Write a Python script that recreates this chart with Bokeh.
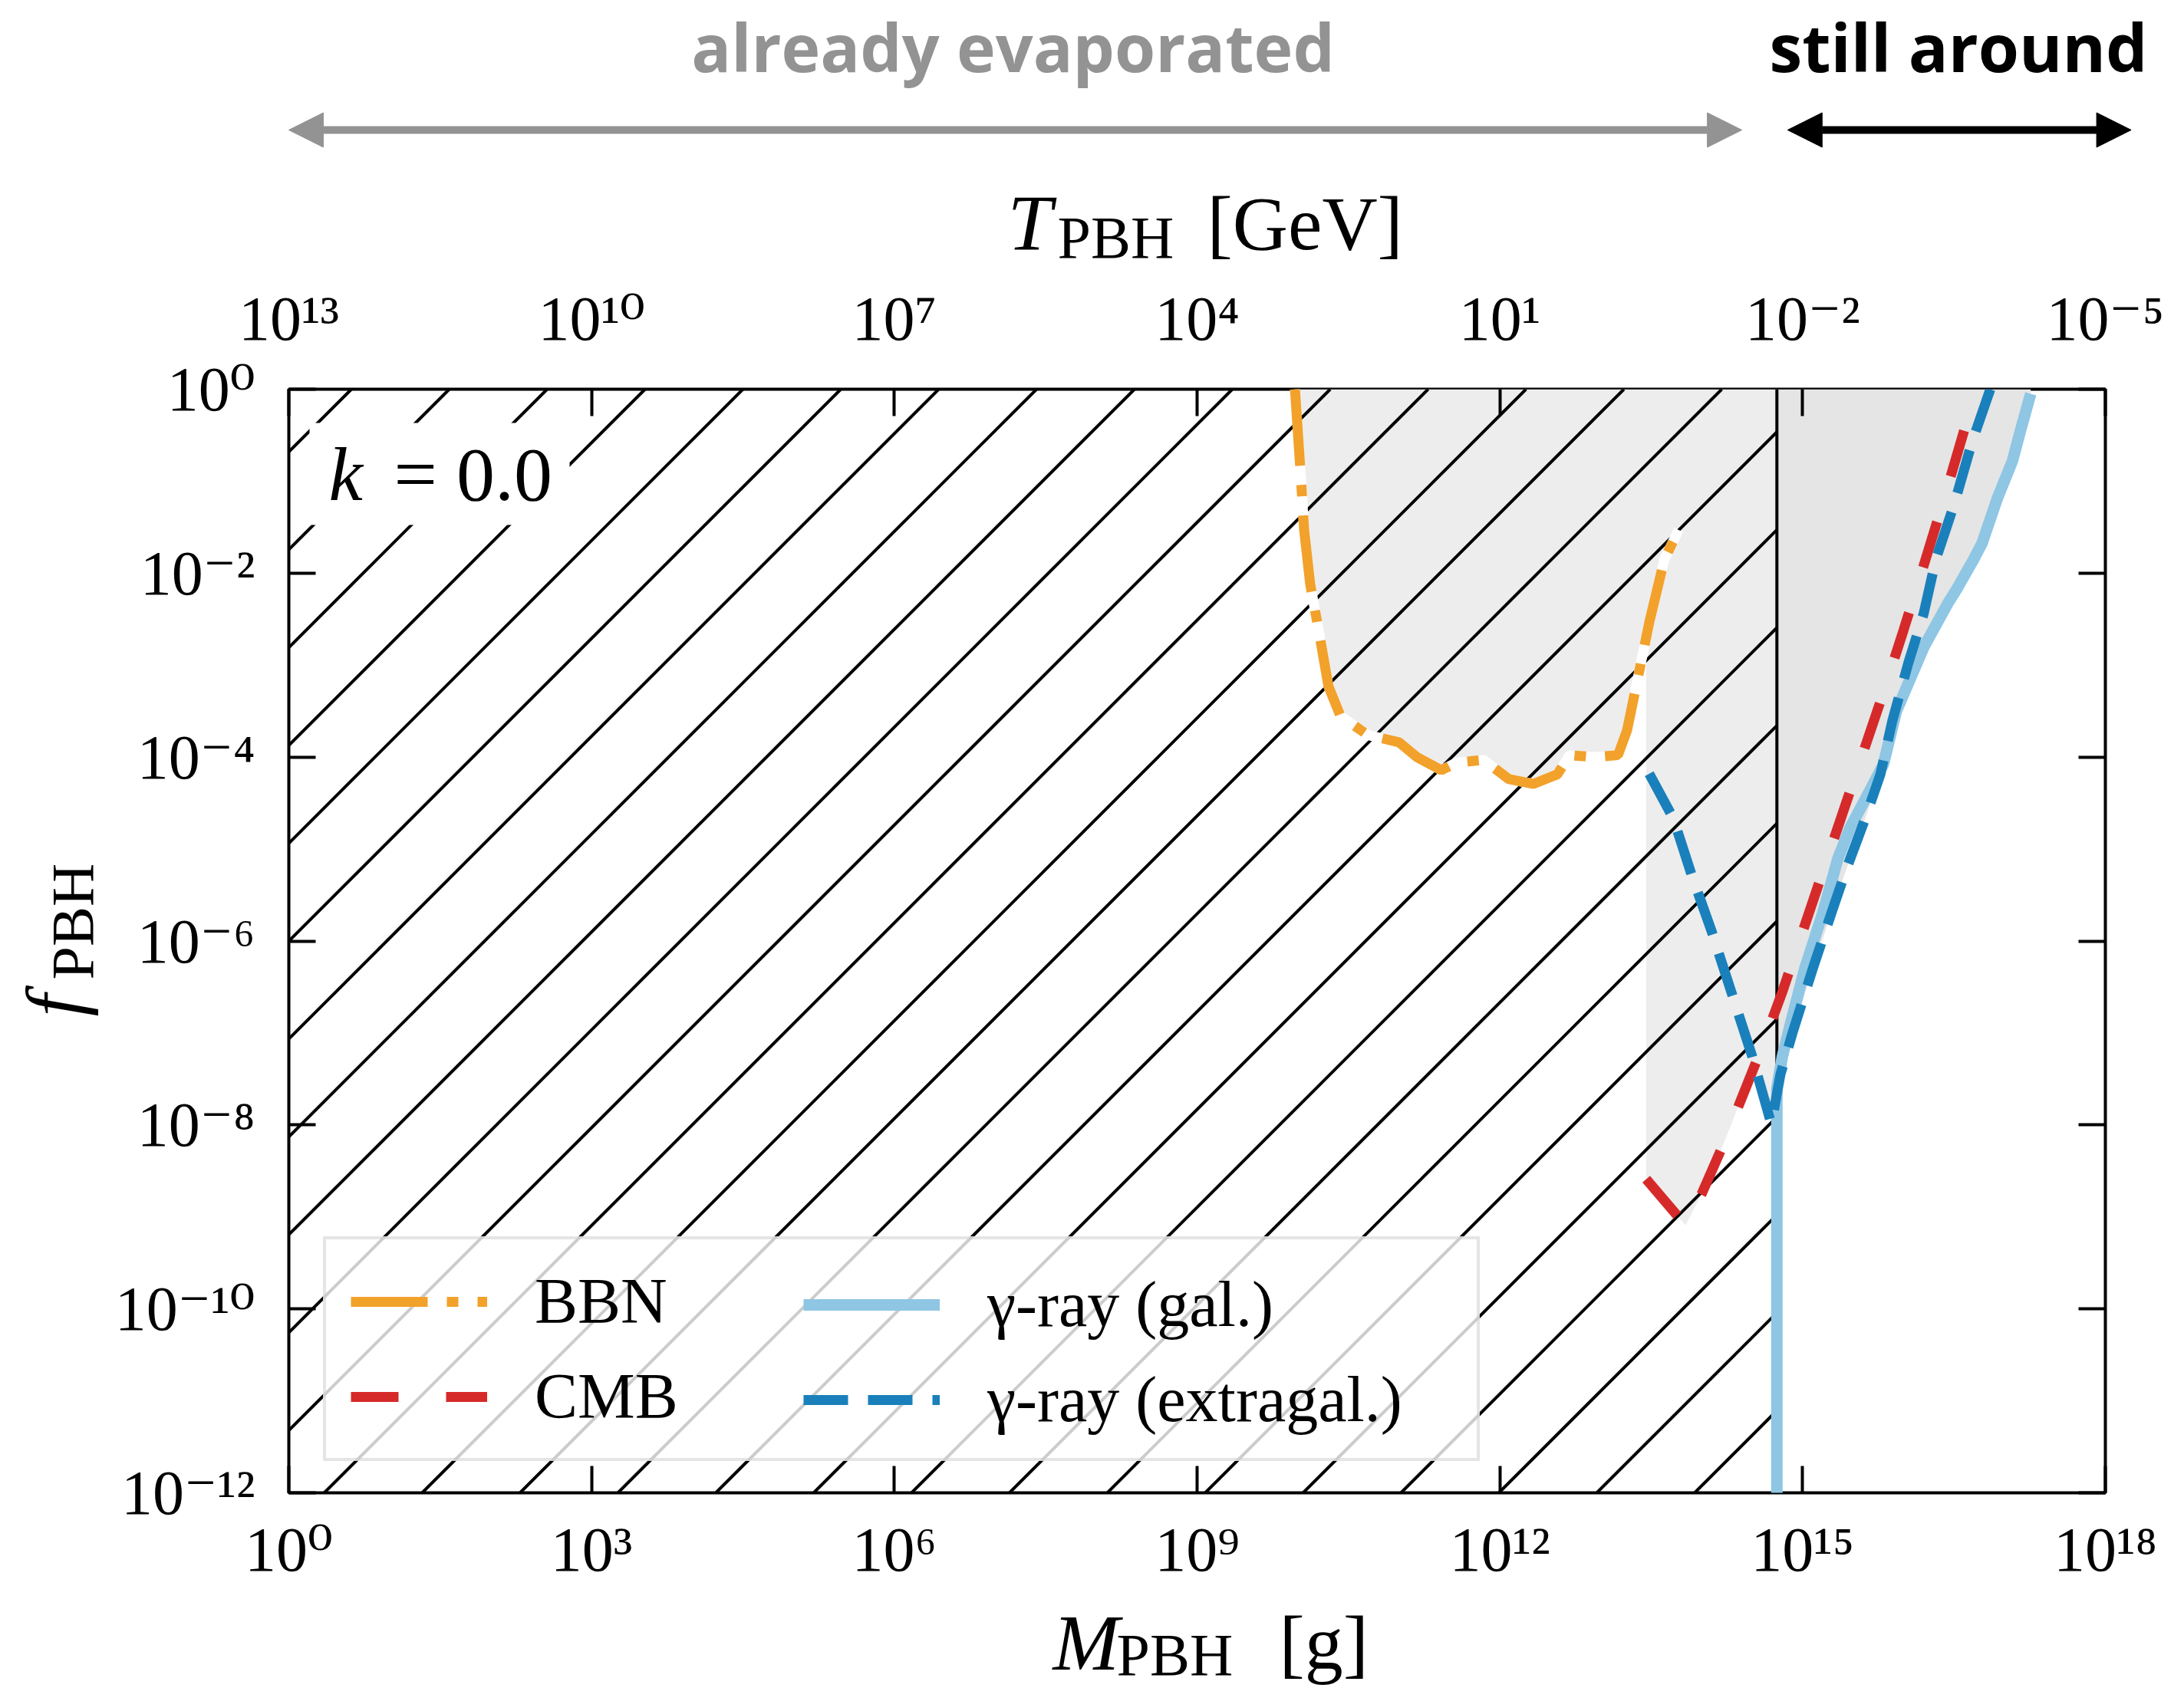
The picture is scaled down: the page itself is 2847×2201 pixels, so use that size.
import numpy as np
from bokeh.plotting import figure
from bokeh.layouts import column, row
from bokeh.models import (Range1d, LogAxis, LogScale, FixedTicker, CustomJSTickFormatter,
                          Label, Legend, LegendItem, Arrow, NormalHead, BoxAnnotation)
from bokeh.embed import file_html
from bokeh.resources import INLINE
from bokeh.core.properties import value

# ---------------- data ----------------
bbn_mass = [9.33e9, 1.05e10, 1.15e10, 1.32e10, 1.62e10, 2.0e10, 2.63e10, 4.9e10, 1.0e11,
            1.51e11, 2.63e11, 3.72e11, 6.9e11, 1.23e12, 2.14e12, 3.72e12, 4.9e12, 8.5e12,
            1.48e13, 1.82e13, 2.29e13, 3.02e13, 4.27e13, 5.9e13]
bbn_f = [1.0, 1.45e-1, 2.95e-2, 7.6e-3, 2.24e-3, 5.9e-4, 2.8e-4, 1.74e-4, 1.45e-4,
         1.0e-4, 7.2e-5, 8.7e-5, 9.3e-5, 5.75e-5, 5.1e-5, 6.5e-5, 1.05e-4, 1.0e-4,
         1.05e-4, 1.95e-4, 6.6e-4, 2.9e-3, 1.41e-2, 2.95e-2]

cmb_mass = [2.82e13, 6.92e13, 1.0e14, 1.58e14, 2.51e14, 3.98e14, 6.31e14, 1.0e15, 1.58e15,
            2.51e15, 3.98e15, 6.31e15, 1.0e16, 1.58e16, 2.51e16, 3.98e16, 5.0e16]
cmb_f = [2.57e-9, 8.1e-10, 1.78e-9, 5.6e-9, 2.0e-8, 7.1e-8, 2.82e-7, 1.26e-6, 5.6e-6,
         2.51e-5, 1.12e-4, 5.0e-4, 2.4e-3, 1.2e-2, 6.3e-2, 0.355, 0.89]

exgal_mass = [3.02e13, 5.25e13, 7.94e13, 1.26e14, 2.0e14, 3.16e14, 4.9e14, 6.03e14, 7.94e14,
              1.26e15, 1.95e15, 2.75e15, 4.17e15, 5.9e15, 7.76e15, 1.12e16, 1.58e16,
              2.09e16, 3.16e16, 4.79e16, 7.24e16]
exgal_f = [6.6e-5, 2.14e-5, 5.25e-6, 1.26e-6, 2.63e-7, 5.6e-8, 1.02e-8, 3.55e-8, 1.0e-7,
           5.0e-7, 2.09e-6, 6.3e-6, 2.14e-5, 6.5e-5, 2.5e-4, 1.07e-3, 3.6e-3,
           1.41e-2, 5.5e-2, 0.269, 1.0]

gal_mass = [5.56e14, 5.56e14, 6.31e14, 7.59e14, 1.05e15, 1.58e15, 2.24e15, 2.95e15, 4.47e15,
            6.31e15, 8.5e15, 1.58e16, 2.75e16, 3.39e16, 4.9e16, 6.03e16, 8.5e16,
            1.2e17, 1.45e17, 1.82e17]
gal_f = [1.0e-13, 2.5e-8, 5.6e-8, 1.26e-7, 5.0e-7, 2.0e-6, 7.9e-6, 1.7e-5, 4.0e-5,
         8.3e-5, 3.16e-4, 1.55e-3, 4.7e-3, 6.8e-3, 1.38e-2, 2.14e-2, 6.5e-2,
         0.166, 0.363, 0.89]

M_EVAP = 5.56e14          # mass evaporating today [g]
T_SCALE_GEV = 1.0e13      # T_PBH = T_SCALE_GEV * (1 g / M)
M_RANGE = (1.0, 1.0e18)
F_RANGE = (1.0e-12, 1.0)
MASS_TICKS = [1e0, 1e3, 1e6, 1e9, 1e12, 1e15, 1e18]
F_TICKS = [1e-12, 1e-10, 1e-8, 1e-6, 1e-4, 1e-2, 1e0]
T_TICKS = [1e13, 1e10, 1e7, 1e4, 1e1, 1e-2, 1e-5]

LEGEND_LABELS = ["BBN", "CMB", "γ-ray (gal.)", "γ-ray (extragal.)"]
TOP_TEXTS = ["already evaporated", "still around"]
EVAP_ARROW_M = (1.0, 2.5e14)       # mass span of the "already evaporated" arrow
AROUND_ARROW_M = (7.1e14, 1.8e18)  # mass span of the "still around" arrow

# ---------------- style / geometry ----------------
C_BBN = "#F2A12B"
C_CMB = "#D62A2A"
C_EXGAL = "#1A80BB"
C_GAL = "#8EC6E4"
FILL_LEFT = "#EDEDED"
FILL_RIGHT = "#E5E5E5"
GRAY_TXT = "#939393"
SERIF = "Liberation Serif, DejaVu Serif"
SANS = "Open Sans"
# renderer places the alphabetic baseline this fraction of the font size too low
BASE_FIX = {SERIF: 0.33, SANS: 0.41}

W_TOTAL, H_TOTAL = 2847, 2201
FRAME_W, FRAME_H = 2368, 1439
FRAME_LEFT, FRAME_TOP = 376, 507          # page position of the plot frame
LEFT_STRIP_W = 140
TOP_STRIP_H = 357
B_L = FRAME_LEFT - LEFT_STRIP_W
B_R = W_TOTAL - FRAME_LEFT - FRAME_W
B_T = FRAME_TOP - TOP_STRIP_H
B_B = 128
MAIN_W = W_TOTAL - LEFT_STRIP_W
MAIN_H = B_T + FRAME_H + B_B
BOTTOM_STRIP_H = H_TOTAL - TOP_STRIP_H - MAIN_H
PPD_X = FRAME_W / 18.0
FRAME_BOTTOM = FRAME_TOP + FRAME_H


def scr(px, py):
    """page pixel -> screen units of the main frame (from its bottom-left, y up)"""
    return px - FRAME_LEFT, FRAME_BOTTOM - py


def page_to_mass(px):
    return 10 ** ((px - FRAME_LEFT) / PPD_X)


SUP_CODE = """
const sup = {"-": "\u207b", "0": "\u2070", "1": "\u00b9", "2": "\u00b2", "3": "\u00b3",
             "4": "\u2074", "5": "\u2075", "6": "\u2076", "7": "\u2077", "8": "\u2078", "9": "\u2079"};
const e = Math.round(Math.log10(tick));
return "10" + String(e).split("").map(c => sup[c]).join("");
"""

# ---------------- main figure ----------------
p = figure(x_axis_type="log", y_axis_type="log",
           x_range=Range1d(*M_RANGE), y_range=Range1d(*F_RANGE),
           width=MAIN_W, height=MAIN_H,
           min_border_left=B_L, min_border_right=B_R, min_border_top=B_T, min_border_bottom=B_B,
           output_backend="svg", toolbar_location=None)
p.grid.visible = False
p.outline_line_color = "black"
p.outline_line_width = 4
p.background_fill_color = "white"
p.border_fill_color = "white"

bottom_axis = p.below[0]
left_axis = p.left[0]
p.extra_x_ranges = {"T": Range1d(T_SCALE_GEV / M_RANGE[0], T_SCALE_GEV / M_RANGE[1])}
p.extra_x_scales = {"T": LogScale()}
top_axis = LogAxis(x_range_name="T")
p.add_layout(top_axis, "above")
right_axis = LogAxis()
p.add_layout(right_axis, "right")

bottom_axis.ticker = FixedTicker(ticks=MASS_TICKS, minor_ticks=[])
left_axis.ticker = FixedTicker(ticks=F_TICKS, minor_ticks=[])
top_axis.ticker = FixedTicker(ticks=T_TICKS, minor_ticks=[])
right_axis.ticker = FixedTicker(ticks=F_TICKS, minor_ticks=[])
for ax in (bottom_axis, left_axis, top_axis):
    ax.formatter = CustomJSTickFormatter(code=SUP_CODE)
right_axis.formatter = CustomJSTickFormatter(code="return '';")
for ax in (bottom_axis, left_axis, top_axis, right_axis):
    ax.axis_line_color = None
    ax.major_tick_in = 35
    ax.major_tick_out = 0
    ax.minor_tick_in = 0
    ax.minor_tick_out = 0
    ax.major_tick_line_width = 4
    ax.major_label_text_font = SERIF
    ax.major_label_text_font_size = "82px"
    ax.major_label_text_color = "black"
bottom_axis.major_label_standoff = 28
left_axis.major_label_standoff = 44
top_axis.major_label_standoff = 47


# ---- excluded-region envelope (min over constraints) ----
def log_interp(mq, ms, fs):
    lq = np.log10(mq)
    lx = np.log10(np.asarray(ms))
    ly = np.log10(np.asarray(fs))
    out = np.full(len(lq), np.inf)
    m = (lq >= lx[0]) & (lq <= lx[-1])
    out[m] = np.interp(lq[m], lx, ly)
    return out


curves = [(bbn_mass, bbn_f), (cmb_mass, cmb_f), (exgal_mass, exgal_f), (gal_mass[1:], gal_f[1:])]
grid = set()
for ms, _ in curves:
    grid.update(ms)
    grid.add(ms[0] * (1 - 1e-7))
grid.add(M_EVAP)
grid = np.array(sorted(g for g in grid if bbn_mass[0] <= g <= gal_mass[-1]))
env = 10 ** np.min(np.vstack([log_interp(grid, ms, fs) for ms, fs in curves]), axis=0)
left = grid <= M_EVAP
right = grid >= M_EVAP
p.varea(x=grid[left], y1=env[left], y2=F_RANGE[1], fill_color=FILL_LEFT)
p.varea(x=grid[right], y1=env[right], y2=F_RANGE[1], fill_color=FILL_RIGHT)

# ---- 45-degree hatching of the "already evaporated" region (M < M_EVAP) ----
HATCH_PX = 127.6
HATCH_PHASE = 1.59        # log10 M where a hatch line meets f = 1
PPD_Y = FRAME_H / 12.0
slope = PPD_X / PPD_Y
dm = HATCH_PX / PPD_X
lx0, lx1 = np.log10(M_RANGE[0]), np.log10(M_EVAP)
ly0, ly1 = np.log10(F_RANGE[0]), np.log10(F_RANGE[1])
hx, hy = [], []
k0 = int(np.floor((lx0 - HATCH_PHASE) / dm)) - 2
k1 = int(np.ceil((lx1 - ly0 / slope - HATCH_PHASE) / dm)) + 2
for k in range(k0, k1 + 1):
    m0 = HATCH_PHASE + k * dm
    lo = max(lx0, m0 + ly0 / slope)
    hi = min(lx1, m0 + ly1 / slope)
    if lo < hi:
        hx.append([10 ** lo, 10 ** hi])
        hy.append([10 ** (slope * (lo - m0)), 10 ** (slope * (hi - m0))])
p.multi_line(xs=hx, ys=hy, line_color="black", line_width=4)

p.line(x=[M_EVAP, M_EVAP], y=[F_RANGE[0], F_RANGE[1]], line_color="black", line_width=4)

LW = 13
w_bbn = p.line(bbn_mass, bbn_f, line_color="white", line_width=LW)
r_gal = p.line(gal_mass, gal_f, line_color=C_GAL, line_width=15)
r_bbn = p.line(bbn_mass, bbn_f, line_color=C_BBN, line_width=LW, line_dash="100 25 15 25")
r_cmb = p.line(cmb_mass, cmb_f, line_color=C_CMB, line_width=LW, line_dash="62 62")
r_ex = p.line(exgal_mass, exgal_f, line_color=C_EXGAL, line_width=LW, line_dash="58 26")

# ---- legends ----
leg_common = dict(glyph_width=178, glyph_height=80, label_standoff=62, label_height=80,
                  label_text_font=SERIF, label_text_font_size="84px", label_text_color="black",
                  padding=32, spacing=27, margin=0)
leg1 = Legend(items=[LegendItem(label=LEGEND_LABELS[0], renderers=[w_bbn, r_bbn]),
                     LegendItem(label=LEGEND_LABELS[1], renderers=[r_cmb])],
              location=(45, 41), label_width=1196, border_line_color="#cccccc",
              border_line_width=4, background_fill_color="white", background_fill_alpha=0.8,
              **leg_common)
leg2 = Legend(items=[LegendItem(label=LEGEND_LABELS[2], renderers=[r_gal]),
                     LegendItem(label=LEGEND_LABELS[3], renderers=[r_ex])],
              location=(639, 41), border_line_alpha=0, background_fill_alpha=0,
              **leg_common)
p.add_layout(leg1)
p.add_layout(leg2)

# ---- k = 0.0 (white box behind it) ----
bx0, by0 = scr(403, 684)
bx1, by1 = scr(742, 551)
p.add_layout(BoxAnnotation(left=bx0, right=bx1, bottom=by0, top=by1,
                           left_units="screen", right_units="screen",
                           bottom_units="screen", top_units="screen",
                           fill_color="white", fill_alpha=1.0, line_color=None))
for txt, px, style in (("k", 428, "italic"), ("= 0.0", 513, "normal")):
    sx, sy = scr(px, 651)
    p.add_layout(Label(x=sx, y=sy + BASE_FIX[SERIF] * 100, x_units="screen", y_units="screen",
                       text=txt, text_font=SERIF, text_font_size="100px", text_font_style=style,
                       text_baseline="alphabetic", text_align="left", text_color="black"))


# ---------------- text strips around the plot ----------------
def strip(w, h, **kw):
    s = figure(frame_width=w, frame_height=h, min_border=0, x_axis_location=None,
               y_axis_location=None, toolbar_location=None, output_backend="svg",
               frame_align=False, **kw)
    s.grid.visible = False
    s.outline_line_color = None
    s.border_fill_color = "white"
    s.background_fill_color = "white"
    return s


def add_text(s, x, y, txt, size, style="normal", color="black", font=SERIF,
             align="left", rotated=False):
    fix = BASE_FIX[font] * size
    if rotated:
        x, y, angle = x - fix, y, np.pi / 2
    else:
        x, y, angle = x, y + fix, 0.0
    s.text(x=[x], y=[y], text=[txt], text_font=value(font), text_font_size=value(f"{size}px"),
           text_font_style=style, text_color=color, text_align=align,
           text_baseline="alphabetic", angle=angle)


# top strip: banner + T_PBH label; x in grams (same scale as the plot)
top = strip(W_TOTAL, TOP_STRIP_H, x_axis_type="log",
            x_range=Range1d(page_to_mass(0), page_to_mass(W_TOTAL)),
            y_range=Range1d(0, TOP_STRIP_H))
ty = lambda py: TOP_STRIP_H - py
add_text(top, 1.5e7, ty(95), TOP_TEXTS[0], 86, "bold", GRAY_TXT, SANS, "center")
add_text(top, 3.5e16, ty(95), TOP_TEXTS[1], 86, "bold", "black", SANS, "center")
for (m0, m1), col in ((EVAP_ARROW_M, GRAY_TXT), (AROUND_ARROW_M, "black")):
    top.add_layout(Arrow(x_start=m0, x_end=m1, y_start=ty(169), y_end=ty(169),
                         line_color=col, line_width=10,
                         start=NormalHead(size=45, fill_color=col, line_color=col),
                         end=NormalHead(size=45, fill_color=col, line_color=col)))
add_text(top, page_to_mass(1313), ty(324), "T", 104, "italic")
add_text(top, page_to_mass(1378), ty(335), "PBH", 78)
add_text(top, page_to_mass(1573), ty(324), "[GeV]", 100)

# left strip: f_PBH (rotated)
left_s = strip(LEFT_STRIP_W, MAIN_H, x_range=Range1d(0, LEFT_STRIP_W), y_range=Range1d(0, MAIN_H))
ly = lambda py: TOP_STRIP_H + MAIN_H - py
add_text(left_s, 104, ly(1325), "f", 104, "italic", rotated=True)
add_text(left_s, 120, ly(1277), "PBH", 78, rotated=True)

# bottom strip: M_PBH [g]
bot = strip(W_TOTAL, BOTTOM_STRIP_H, x_range=Range1d(0, W_TOTAL), y_range=Range1d(0, BOTTOM_STRIP_H))
by = lambda py: H_TOTAL - py
add_text(bot, 1372, by(2175), "M", 104, "italic")
add_text(bot, 1455, by(2183), "PBH", 78)
add_text(bot, 1667, by(2175), "[g]", 100)

layout = column(top, row(left_s, p, spacing=0), bot, spacing=0)
open("out.html", "w").write(file_html(layout, INLINE))
